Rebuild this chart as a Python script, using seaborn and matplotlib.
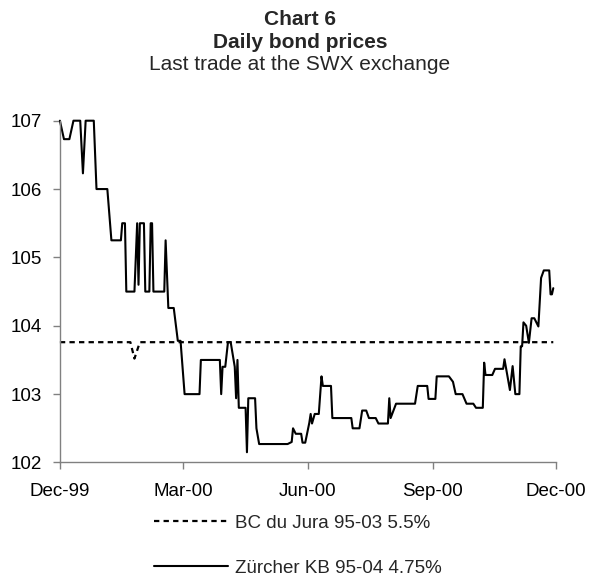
import matplotlib
matplotlib.use("Agg")
import pandas as pd
import matplotlib.pyplot as plt
import matplotlib.dates as mdates
import seaborn as sns

# Zürcher KB 95-04 4.75% - last trade prices
zkb_dates = [
    "1999-12-01", "1999-12-04", "1999-12-08", "1999-12-11", "1999-12-16", "1999-12-18",
    "1999-12-20", "1999-12-26", "1999-12-28", "2000-01-05", "2000-01-08", "2000-01-15",
    "2000-01-16", "2000-01-18", "2000-01-19", "2000-01-25", "2000-01-27", "2000-01-28",
    "2000-01-29", "2000-02-01", "2000-02-02", "2000-02-05", "2000-02-06", "2000-02-07",
    "2000-02-08", "2000-02-16", "2000-02-17", "2000-02-19", "2000-02-23", "2000-02-26",
    "2000-02-28", "2000-03-02", "2000-03-13", "2000-03-14", "2000-03-28", "2000-03-29",
    "2000-03-30", "2000-04-01", "2000-04-03", "2000-04-05", "2000-04-08", "2000-04-09",
    "2000-04-10", "2000-04-11", "2000-04-16", "2000-04-17", "2000-04-18", "2000-04-23",
    "2000-04-24", "2000-04-26", "2000-05-17", "2000-05-20", "2000-05-21", "2000-05-23",
    "2000-05-27", "2000-05-28", "2000-05-30", "2000-06-02", "2000-06-03", "2000-06-04",
    "2000-06-06", "2000-06-09", "2000-06-11", "2000-06-12", "2000-06-18", "2000-06-19",
    "2000-07-03", "2000-07-04", "2000-07-09", "2000-07-11", "2000-07-14", "2000-07-16",
    "2000-07-21", "2000-07-23", "2000-07-30", "2000-07-31", "2000-08-01", "2000-08-05",
    "2000-08-19", "2000-08-21", "2000-08-28", "2000-08-29", "2000-09-03", "2000-09-04",
    "2000-09-13", "2000-09-16", "2000-09-18", "2000-09-23", "2000-09-26", "2000-10-01",
    "2000-10-03", "2000-10-08", "2000-10-09", "2000-10-10", "2000-10-15", "2000-10-17",
    "2000-10-23", "2000-10-24", "2000-10-28", "2000-10-30", "2000-11-01", "2000-11-04",
    "2000-11-05", "2000-11-06", "2000-11-07", "2000-11-09", "2000-11-11", "2000-11-13",
    "2000-11-15", "2000-11-18", "2000-11-20", "2000-11-22", "2000-11-26", "2000-11-27",
    "2000-11-28", "2000-11-29",
]
zkb_prices = [
    107.0, 106.73, 106.73, 107.0, 107.0, 106.23,
    107.0, 107.0, 106.0, 106.0, 105.25, 105.25,
    105.5, 105.5, 104.5, 104.5, 105.5, 104.6,
    105.5, 105.5, 104.5, 104.5, 105.5, 105.5,
    104.5, 104.5, 105.25, 104.26, 104.26, 103.78,
    103.78, 103.0, 103.0, 103.5, 103.5, 103.0,
    103.4, 103.4, 103.76, 103.76, 103.4, 102.94,
    103.5, 102.8, 102.8, 102.15, 102.94, 102.94,
    102.5, 102.27, 102.27, 102.3, 102.5, 102.42,
    102.42, 102.29, 102.29, 102.58, 102.71, 102.57,
    102.71, 102.71, 103.26, 103.12, 103.12, 102.65,
    102.65, 102.5, 102.5, 102.76, 102.76, 102.65,
    102.65, 102.57, 102.57, 102.94, 102.65, 102.86,
    102.86, 103.12, 103.12, 102.93, 102.93, 103.26,
    103.26, 103.18, 103.0, 103.0, 102.86, 102.86,
    102.8, 102.8, 103.46, 103.28, 103.28, 103.37,
    103.37, 103.51, 103.06, 103.41, 103.0, 103.0,
    103.7, 103.7, 104.05, 104.0, 103.75, 104.11,
    104.11, 103.99, 104.7, 104.81, 104.81, 104.46,
    104.46, 104.55,
]

# BC du Jura 95-03 5.5%
jura_dates = ["1999-12-01", "2000-01-22", "2000-01-25", "2000-01-29", "2000-11-29"]
jura_prices = [103.76, 103.76, 103.52, 103.76, 103.76]

label_jura = "BC du Jura 95-03 5.5%"
label_zkb = "Zürcher KB 95-04 4.75%"

sns.set_style("ticks")
plt.rcParams["font.family"] = ["Liberation Sans", "DejaVu Sans"]

fig = plt.figure(figsize=(5.93, 5.80), dpi=100)
ax = fig.add_axes([0.101, 0.2026, 0.8366, 0.5893])

jura = pd.DataFrame({"date": pd.to_datetime(jura_dates), "price": jura_prices})
zkb = pd.DataFrame({"date": pd.to_datetime(zkb_dates), "price": zkb_prices})

sns.lineplot(data=jura, x="date", y="price", ax=ax, color="black", lw=1.6,
             linestyle=(0, (2.4, 1.9)), label=label_jura, clip_on=False)
sns.lineplot(data=zkb, x="date", y="price", ax=ax, color="black", lw=1.5,
             label=label_zkb, clip_on=False)

ax.set_xlim(pd.Timestamp("1999-12-01"), pd.Timestamp("2000-12-01"))
ax.set_ylim(102, 107)
ax.set_yticks([102, 103, 104, 105, 106, 107])
ax.xaxis.set_major_locator(mdates.MonthLocator(bymonth=[3, 6, 9, 12]))
ax.xaxis.set_major_formatter(mdates.DateFormatter("%b-%y"))
ax.set_xlabel("")
ax.set_ylabel("")

sns.despine(ax=ax)
for side in ["left", "bottom"]:
    ax.spines[side].set_color("#808080")
    ax.spines[side].set_linewidth(1.0)
ax.tick_params(axis="both", colors="#808080", labelcolor="black", labelsize=13.5,
               length=5, width=1.0, direction="out")
ax.tick_params(axis="y", pad=8)
ax.tick_params(axis="x", pad=10)

handles, labels = ax.get_legend_handles_labels()
ax.get_legend().remove()
fig.legend(handles, labels, loc="center", bbox_to_anchor=(0.503, 0.059),
           frameon=False, fontsize=13.5, handlelength=3.9, handletextpad=0.42,
           labelspacing=1.5)

fig.text(0.506, 0.967, "Chart 6", ha="center", va="center", fontsize=15, fontweight="bold")
fig.text(0.506, 0.927, "Daily bond prices", ha="center", va="center", fontsize=15,
         fontweight="bold")
fig.text(0.506, 0.888, "Last trade at the SWX exchange", ha="center", va="center",
         fontsize=15)

fig.savefig("out.png", dpi=100)
